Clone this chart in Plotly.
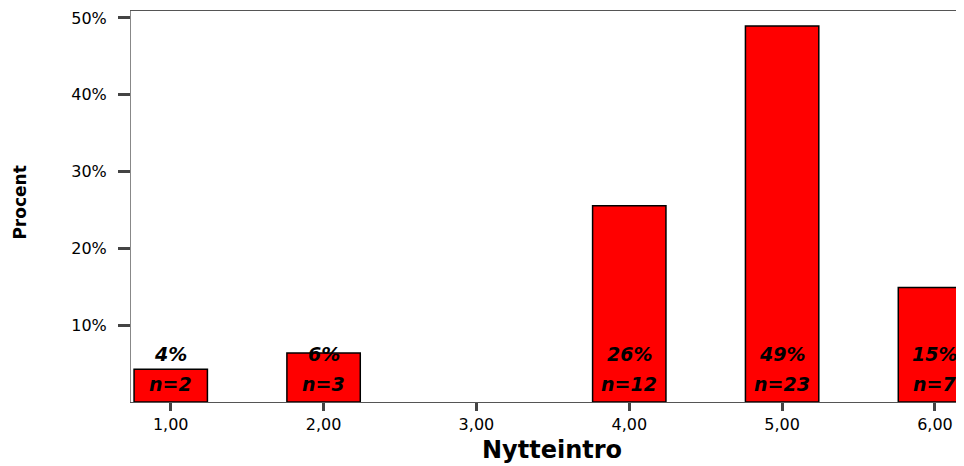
import plotly.graph_objects as go

categories = [1, 2, 3, 4, 5, 6]
cat_labels = ["1,00", "2,00", "3,00", "4,00", "5,00", "6,00"]
counts = [2, 3, 0, 12, 23, 7]
total = sum(counts)
percents = [c / total * 100 for c in counts]
y_ticks = [10, 20, 30, 40, 50]
y_tick_labels = ["10%", "20%", "30%", "40%", "50%"]

bar_y = [p if c > 0 else None for p, c in zip(percents, counts)]

fig = go.Figure()
fig.add_trace(go.Bar(
    x=categories, y=bar_y, width=0.48,
    marker=dict(color="#FF0000", line=dict(color="black", width=1.5)),
    hoverinfo="skip",
))

lab_font = dict(family="DejaVu Sans", size=19, color="black", weight="bold", style="italic")
for x, p, c in zip(categories, percents, counts):
    if c == 0:
        continue
    fig.add_annotation(x=x, y=6.2, text=f"{round(p)}%", showarrow=False,
                       font=lab_font, xanchor="center", yanchor="middle")
    fig.add_annotation(x=x, y=2.3, text=f"n={c}", showarrow=False,
                       font=lab_font, xanchor="center", yanchor="middle")

# axis titles
fig.add_annotation(xref="paper", yref="paper", x=0.505, y=0, yshift=-48,
                   text="Nytteintro", showarrow=False, xanchor="center", yanchor="middle",
                   font=dict(size=24, family="DejaVu Sans", weight="bold", color="black"))
fig.add_annotation(xref="paper", yref="paper", x=0, y=0.51, xshift=-111,
                   text="Procent", showarrow=False, textangle=-90,
                   xanchor="center", yanchor="middle",
                   font=dict(size=17, family="DejaVu Sans", weight="bold", color="black"))

fig.update_layout(
    width=956, height=458, autosize=False,
    margin=dict(l=123, r=0, t=3, b=64),
    plot_bgcolor="white", paper_bgcolor="white",
    showlegend=False,
    font=dict(family="DejaVu Sans", color="black"),
)
fig.update_xaxes(
    range=[0.74, 6.19], tickvals=categories, ticktext=cat_labels,
    ticks="outside", ticklen=8, tickwidth=3, tickcolor="#444",
    tickfont=dict(size=16, family="DejaVu Sans"),
    showline=True, linecolor="#555", linewidth=1, mirror=True,
    showgrid=False, zeroline=False, automargin=False,
)
fig.update_yaxes(
    range=[0, 50.9], tickvals=y_ticks, ticktext=y_tick_labels,
    ticks="outside", ticklen=12, tickwidth=3, tickcolor="#444",
    tickfont=dict(size=16, family="DejaVu Sans"), ticklabelstandoff=8,
    showline=True, linecolor="#888", linewidth=1,
    showgrid=False, zeroline=False, automargin=False,
)

fig.write_html("out.html")
